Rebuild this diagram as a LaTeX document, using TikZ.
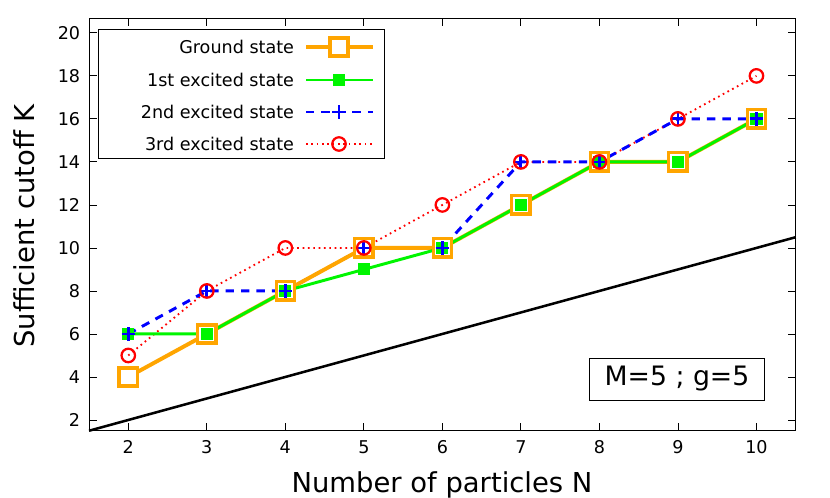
\documentclass[tikz,border=0pt]{standalone}
\usepackage{fontspec}
\setmainfont{DejaVu Sans}
\usetikzlibrary{positioning}
\definecolor{gsorange}{RGB}{255,165,0}
\definecolor{exgreen}{RGB}{0,245,0}
\tikzset{
    gscurve/.style={gsorange, line width=2.8pt},
    firstcurve/.style={exgreen, line width=2.1pt},
    secondcurve/.style={blue, line width=2.1pt, dash pattern=on 6pt off 5pt},
    thirdcurve/.style={red, line width=1.3pt, dash pattern=on 1.2pt off 2.6pt},
    ticklab/.style={font=\fontsize{12.5}{14}\selectfont},
    legendlab/.style={font=\fontsize{12.5}{14}\selectfont, anchor=east}
}
\newcommand{\gsmark}[1]{\draw[gsorange, line width=2.4pt, fill=white] #1 ++(-6.5pt,-6.5pt) rectangle ++(13pt,13pt);}
\newcommand{\exonemark}[1]{\fill[exgreen] #1 ++(-4.3pt,-4.3pt) rectangle ++(8.6pt,8.6pt);}
\newcommand{\extwomark}[1]{\draw[blue, line width=2pt] #1 ++(-4.8pt,0) -- ++(9.6pt,0) #1 ++(0,-4.8pt) -- ++(0,9.6pt);}
\newcommand{\exthreemark}[1]{\draw[red, line width=1.6pt] #1 circle (4.8pt);}
\begin{document}
\begin{tikzpicture}[x=0.025cm, y=-0.025cm]
    \useasboundingbox (0,0) rectangle (830,498);
    \begin{scope}[shift={(-28.75,463)}, x=1.9625cm, y=0.5375cm]
        % frame and ticks
        \draw[line width=0.6pt] (1.5,1.53) rectangle (10.5,20.65);
        \foreach \k in {2,...,10} {
            \draw[line width=0.6pt] (\k,1.53) -- ++(0,0.35) (\k,20.65) -- ++(0,-0.35);
            \node[ticklab] (xt\k) at (\k,0.75) {\k};
        }
        \foreach \k in {2,4,...,20} {
            \draw[line width=0.6pt] (1.5,\k) -- ++(0.1,0) (10.5,\k) -- ++(-0.1,0);
            \node[ticklab, anchor=east] (yt\k) at (1.45,\k) {\k};
        }
        % reference line
        \draw[line width=1.8pt] (1.5,1.5) -- (10.5,10.5);
        % curves
        \draw[thirdcurve] (2,5) -- (3,8) -- (4,10) -- (5,10) -- (6,12) -- (7,14) -- (8,14) -- (9,16) -- (10,18);
        \draw[secondcurve] (2,6) -- (3,8) -- (4,8) -- (5,10) -- (6,10) -- (7,14) -- (8,14) -- (9,16) -- (10,16);
        \draw[gscurve] (2,4) -- (3,6) -- (4,8) -- (5,10) -- (6,10) -- (7,12) -- (8,14) -- (9,14) -- (10,16);
        \draw[firstcurve] (2,6) -- (3,6) -- (4,8) -- (5,9) -- (6,10) -- (7,12) -- (8,14) -- (9,14) -- (10,16);
        \foreach \k/\g in {2/4,3/6,4/8,5/10,6/10,7/12,8/14,9/14,10/16} {\gsmark{(\k,\g)}}
        \foreach \k/\g in {2/6,3/6,4/8,5/9,6/10,7/12,8/14,9/14,10/16} {\exonemark{(\k,\g)}}
        \foreach \k/\g in {2/6,3/8,4/8,5/10,6/10,7/14,8/14,9/16,10/16} {\extwomark{(\k,\g)}}
        \foreach \k/\g in {2/5,3/8,4/10,5/10,6/12,7/14,8/14,9/16,10/18} {\exthreemark{(\k,\g)}}
    \end{scope}
    % legend
    \draw[line width=0.6pt] (98,29) rectangle (384,158);
    \node[legendlab] (lg1) at (299,47) {Ground state};
    \node[legendlab] (lg2) at (299,80) {1st excited state};
    \node[legendlab] (lg3) at (299,112) {2nd excited state};
    \node[legendlab] (lg4) at (299,144) {3rd excited state};
    \draw[gscurve] (306,47) -- (373,47); \gsmark{(339,47)}
    \draw[firstcurve] (306,80) -- (373,80); \exonemark{(339,80)}
    \draw[secondcurve] (306,112) -- (373,112); \extwomark{(339,112)}
    \draw[thirdcurve] (306,144) -- (373,144); \exthreemark{(339,144)}
    % parameter box
    \node[draw, line width=0.6pt, minimum width=175*0.025cm, minimum height=42*0.025cm,
          font=\fontsize{19}{22}\selectfont] (params) at (677,379) {M=5 ; g=5};
    % axis labels
    \node[font=\fontsize{19.5}{22}\selectfont] (xlab) at (442,485) {Number of particles N};
    \node[font=\fontsize{19.5}{22}\selectfont, rotate=90] (ylab) at (24,226) {Sufficient cutoff K};
\end{tikzpicture}
\end{document}
